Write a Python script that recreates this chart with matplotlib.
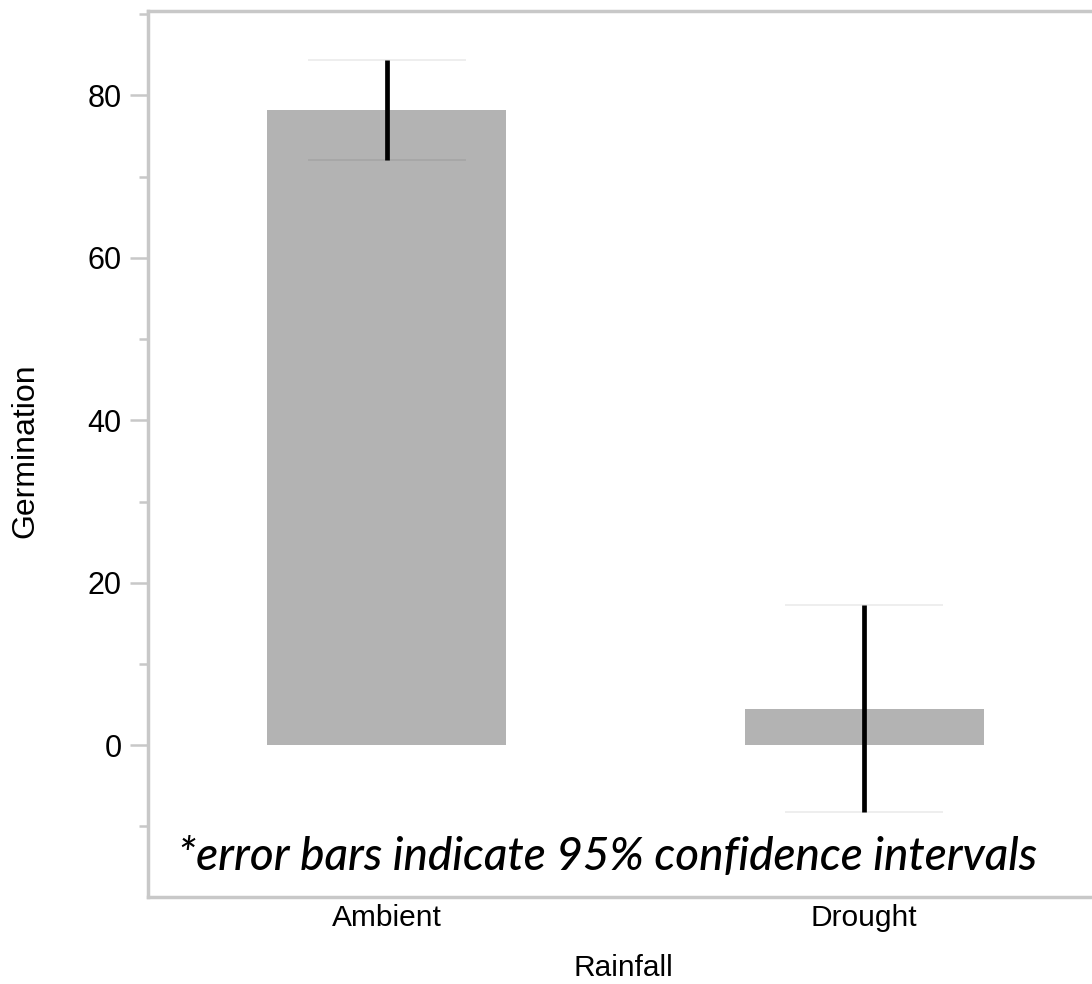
import matplotlib.pyplot as plt
import numpy as np

# data
categories = ['Ambient', 'Drought']
means = [78.2, 4.4]
ci_low = [72.0, -8.2]
ci_high = [84.4, 17.2]

fig = plt.figure(figsize=(10.92, 9.84), dpi=100)
# axes run past the right edge like in the screenshot
ax = fig.add_axes([148 / 1092, 87 / 984, 955 / 1092, 886 / 984])

x = np.arange(len(categories))
ax.bar(x, means, width=0.5, color='#b3b3b3', zorder=1)

# thin faint caps, thick black whisker
ax.hlines(ci_high, x - 0.165, x + 0.165, color='black', alpha=0.08, lw=1.2, zorder=2)
ax.hlines(ci_low, x - 0.165, x + 0.165, color='black', alpha=0.08, lw=1.2, zorder=2)
ax.vlines(x, ci_low, ci_high, color='black', lw=3.4, zorder=3)

ax.set_xlim(-0.5, 1.5)
ax.set_ylim(-18.7, 90.4)
ax.set_yticks([0, 20, 40, 60, 80])
ax.set_yticks(np.arange(-10, 91, 20), minor=True)
ax.set_xticks(x)
ax.set_xticklabels(categories)

for s in ['left', 'bottom', 'top', 'right']:
    ax.spines[s].set_color('#c8c8c8')
    ax.spines[s].set_linewidth(2.5)

ax.tick_params(axis='y', which='major', length=13, width=1.8, color='#c8c8c8',
               labelsize=22, pad=6)
ax.tick_params(axis='y', which='minor', length=6.5, width=1.8, color='#c8c8c8')
ax.tick_params(axis='x', length=0, labelsize=21.5, pad=5)
for lab in ax.get_xticklabels() + ax.get_yticklabels():
    lab.set_fontfamily('Liberation Sans')

ax.set_xlabel('Rainfall', fontsize=21.5, family='Liberation Sans')
ax.set_ylabel('Germination', fontsize=23, family='Liberation Sans')
ax.xaxis.set_label_coords((623 - 148) / 955, -(968 - 897) / 886)
ax.xaxis.label.set_va('center')
ax.yaxis.set_label_coords(-(148 - 25) / 955, (984 - 87 - 451) / 886)
ax.yaxis.label.set_va('center')

ax.text(0.462, -15.4, '*error bars indicate 95% confidence intervals',
        ha='center', va='baseline', fontsize=33, style='italic',
        weight='medium', family='Lato', zorder=4)

plt.savefig('out.png', dpi=100)
plt.close()
